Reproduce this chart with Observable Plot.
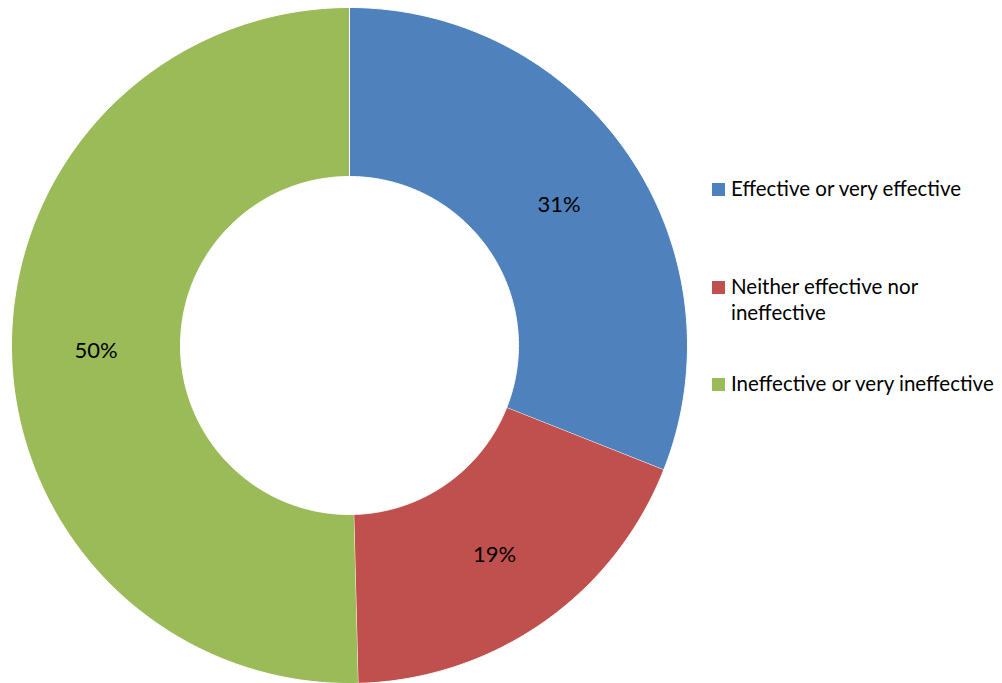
<!DOCTYPE html>
<html>
<head>
<meta charset="utf-8">
<script src="https://cdn.jsdelivr.net/npm/d3@7"></script>
<script src="https://cdn.jsdelivr.net/npm/@observablehq/plot@0.6"></script>
<style>
  html, body { margin: 0; padding: 0; background: #fff; }
  #wrap { position: relative; width: 1002px; height: 683px; overflow: hidden; font-family: Lato, "Open Sans", sans-serif; }
  #chart svg { display: block; }
  .legend-item { position: absolute; left: 712px; width: 290px; font-size: 20.5px; line-height: 26px; color: #000; }
  .legend-item .sw { position: absolute; left: 0; width: 13px; height: 13px; top: 7.5px; }
  .legend-item .lbl { position: absolute; left: 19px; top: 0; width: 270px; }
</style>
</head>
<body>
<div id="wrap">
  <div id="chart"></div>
  <div id="legend"></div>
</div>
<script>
const categories = ["Effective or very effective", "Neither effective nor ineffective", "Ineffective or very ineffective"];
const values = [31.0, 18.6, 50.4];
const colors = ["#4F81BD", "#C0504D", "#9BBB59"];
const legendTops = [175, 273, 370];

const innerRatio = 0.5;
const steps = 240;

const pie = d3.pie().sort(null).value(d => d.value);
const arcs = pie(categories.map((c, i) => ({category: c, value: values[i]})));

// polygon points for each ring slice, derived from pie angles
const ringPoints = [];
for (const a of arcs) {
  const cat = a.data.category;
  for (let k = 0; k <= steps; k++) {
    const t = a.startAngle + (a.endAngle - a.startAngle) * k / steps;
    ringPoints.push({category: cat, x: Math.sin(t), y: Math.cos(t)});
  }
  for (let k = steps; k >= 0; k--) {
    const t = a.startAngle + (a.endAngle - a.startAngle) * k / steps;
    ringPoints.push({category: cat, x: innerRatio * Math.sin(t), y: innerRatio * Math.cos(t)});
  }
}

const labelR = (1 + innerRatio) / 2;
const labels = arcs.map(a => {
  const m = (a.startAngle + a.endAngle) / 2;
  const total = d3.sum(values);
  return {x: labelR * Math.sin(m), y: labelR * Math.cos(m), text: Math.round(a.data.value / total * 100) + "%"};
});

const plot = Plot.plot({
  width: 1002,
  height: 683,
  marginLeft: 11,
  marginRight: 315,
  marginTop: 7,
  marginBottom: 0,
  x: {domain: [-1, 1], axis: null},
  y: {domain: [-1, 1], axis: null},
  color: {domain: categories, range: colors},
  style: {fontFamily: "Lato, 'Open Sans', sans-serif", background: "white"},
  marks: [
    Plot.line(ringPoints, {x: "x", y: "y", z: "category", fill: "category", stroke: "white", strokeWidth: 1, curve: "linear"}),
    Plot.text(labels, {x: "x", y: "y", text: "text", fontSize: 22, fill: "black", dy: 2})
  ]
});
document.getElementById("chart").appendChild(plot);

const legend = document.getElementById("legend");
categories.forEach((c, i) => {
  const item = document.createElement("div");
  item.className = "legend-item";
  item.style.top = legendTops[i] + "px";
  const sw = document.createElement("div");
  sw.className = "sw";
  sw.style.background = colors[i];
  const lbl = document.createElement("div");
  lbl.className = "lbl";
  lbl.textContent = c;
  item.appendChild(sw);
  item.appendChild(lbl);
  legend.appendChild(item);
});
</script>
</body>
</html>
